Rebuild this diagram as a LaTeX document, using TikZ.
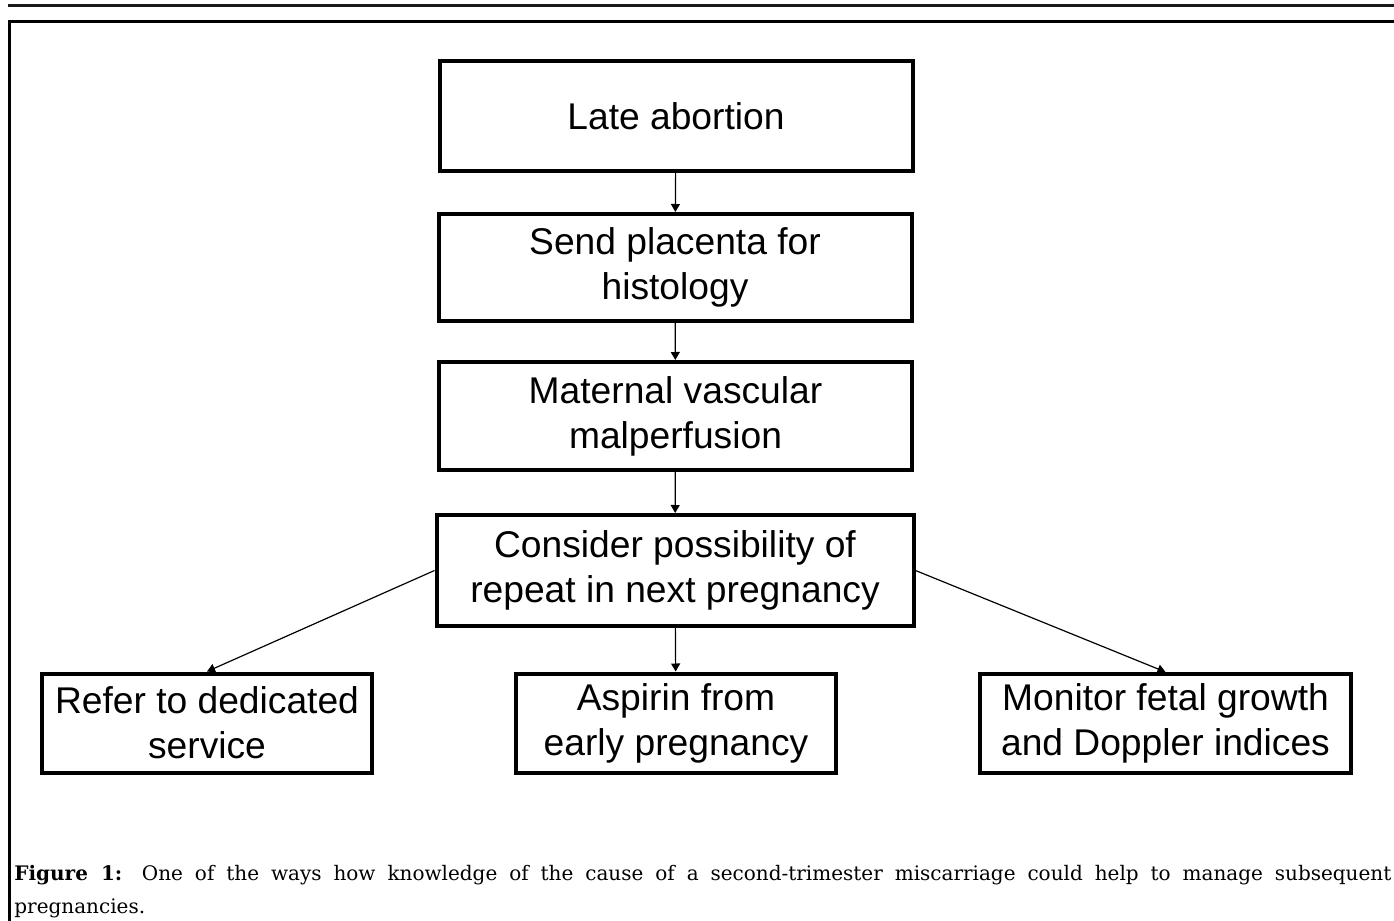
\documentclass[tikz,border=0pt]{standalone}
\usepackage{fontspec}
\setmainfont{Liberation Sans}
\newfontfamily\captionfont{DejaVu Serif}
\usetikzlibrary{arrows.meta}

\tikzset{
  flowbox/.style={draw, line width=2pt, rectangle, inner sep=0pt, align=center,
    font=\fontsize{18.6pt}{22.5pt}\selectfont},
  flowarrow/.style={line width=0.6pt, -{Triangle[length=4pt,width=4.5pt]}},
}

\begin{document}
\begin{tikzpicture}[x=0.5pt, y=-0.5pt]%
\useasboundingbox (0,0) rectangle (1394,921);%
% page rules
\draw[line width=1.6pt, black!90] (8,5.6) -- (1400,5.6);%
\draw[line width=1.3pt] (1400,21.3) -- (9.6,21.3) -- (9.6,930);%
% chain
\node[flowbox, minimum width=236.5pt, minimum height=55pt] (late) at (676, 116) {Late abortion};%
\node[flowbox, minimum width=236.5pt, minimum height=53.5pt] (send) at (675, 267.5) {Send placenta for\\histology};%
\node[flowbox, minimum width=236.5pt, minimum height=54pt] (mvm) at (675.5, 416) {Maternal vascular\\malperfusion};%
\node[flowbox, minimum width=238.5pt, minimum height=55.5pt] (repeat) at (675, 570.5) {Consider possibility of\\repeat in next pregnancy};%
% options
\node[flowbox, minimum width=165pt, minimum height=49.5pt] (refer) at (207, 723) {Refer to dedicated\\service};%
\node[flowbox, minimum width=160pt, minimum height=49.5pt] (aspirin) at (676, 723) {Aspirin from\\early pregnancy};%
\node[flowbox, minimum width=185.5pt, minimum height=49.5pt] (monitor) at (1165.5, 723.5) {Monitor fetal growth\\and Doppler indices};%
\draw[flowarrow] (late) -- (send);%
\draw[flowarrow] (send) -- (mvm);%
\draw[flowarrow] (mvm) -- (repeat);%
\draw[flowarrow] (repeat.west) -- (refer.north);%
\draw[flowarrow] (repeat) -- (aspirin);%
\draw[flowarrow] (repeat.east) -- (monitor.north);%
% caption
\node[anchor=base west, inner sep=0pt, text width=688.5pt, align=justify,
  font=\captionfont\fontsize{10pt}{16.5pt}\selectfont] (caption) at (14, 880)
  {\textbf{Figure 1:} One of the ways how knowledge of the cause of a second-trimester miscarriage could help to manage subsequent\linebreak pregnancies.};%
\end{tikzpicture}
\end{document}
